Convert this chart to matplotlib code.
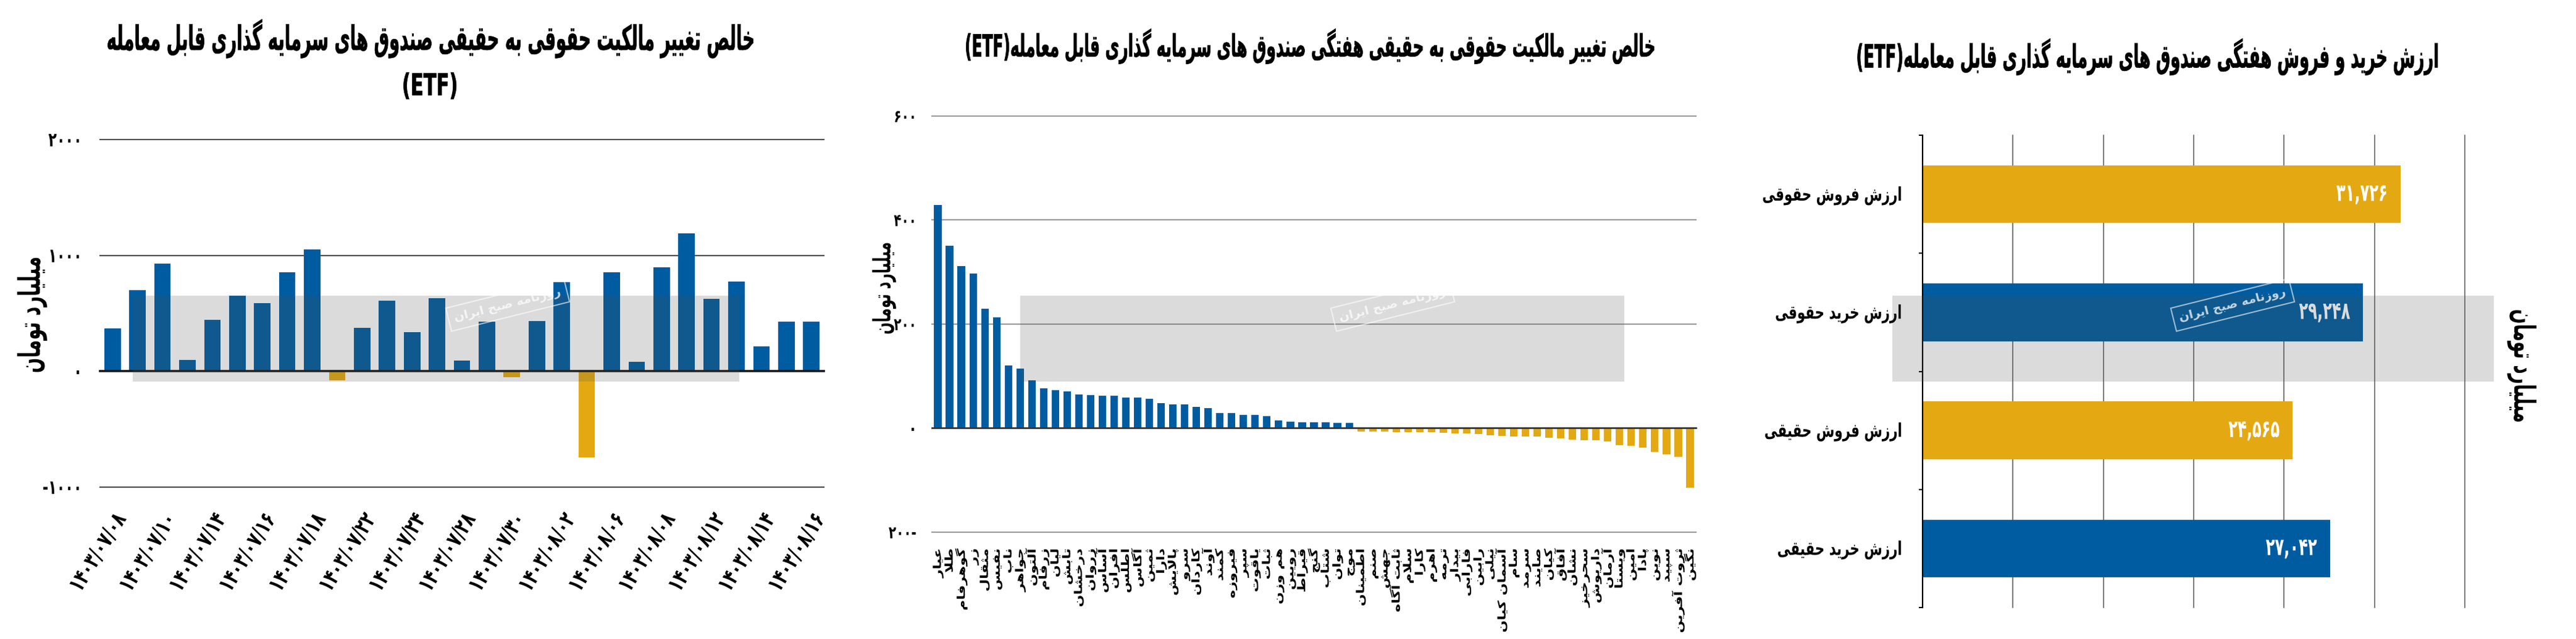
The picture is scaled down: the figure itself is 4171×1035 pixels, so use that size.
import matplotlib
matplotlib.use("Agg")
import matplotlib.pyplot as plt
from matplotlib.patches import Rectangle
from matplotlib.patheffects import AbstractPathEffect
from matplotlib.transforms import Affine2D

# ---------------- data ----------------
p1_dates = ['۱۴۰۳/۰۷/۰۸', '۱۴۰۳/۰۷/۰۹', '۱۴۰۳/۰۷/۱۰', '۱۴۰۳/۰۷/۱۱', '۱۴۰۳/۰۷/۱۴',
            '۱۴۰۳/۰۷/۱۵', '۱۴۰۳/۰۷/۱۶', '۱۴۰۳/۰۷/۱۷', '۱۴۰۳/۰۷/۱۸', '۱۴۰۳/۰۷/۲۱',
            '۱۴۰۳/۰۷/۲۲', '۱۴۰۳/۰۷/۲۳', '۱۴۰۳/۰۷/۲۴', '۱۴۰۳/۰۷/۲۵', '۱۴۰۳/۰۷/۲۸',
            '۱۴۰۳/۰۷/۲۹', '۱۴۰۳/۰۷/۳۰', '۱۴۰۳/۰۸/۰۱', '۱۴۰۳/۰۸/۰۲', '۱۴۰۳/۰۸/۰۵',
            '۱۴۰۳/۰۸/۰۶', '۱۴۰۳/۰۸/۰۷', '۱۴۰۳/۰۸/۰۸', '۱۴۰۳/۰۸/۰۹', '۱۴۰۳/۰۸/۱۲',
            '۱۴۰۳/۰۸/۱۳', '۱۴۰۳/۰۸/۱۴', '۱۴۰۳/۰۸/۱۵', '۱۴۰۳/۰۸/۱۶']
p1_values = [368, 701, 929, 100, 444, 650, 590, 852, 1051, -78, 375, 611, 340, 631, 90,
             426, -53, 436, 770, -742, 855, 82, 898, 1189, 627, 775, 215, 426, 426]
p1_yticks = [2000, 1000, 0, -1000]
p1_yticklabels = ['۲۰۰۰', '۱۰۰۰', '۰', '-۱۰۰۰']

p2_funds = ['عیار', 'طلا', 'گوهرفام', 'زر', 'مثقال', 'نفیس', 'ناب', 'جواهر', 'آلتون', 'زرفام',
            'لیان', 'تابش', 'درخشان', 'زروان', 'آساس', 'افران', 'اطلس', 'آگاس', 'ثمین', 'دارا',
            'پالایش', 'سرو', 'کاردان', 'آوند', 'کمند', 'فیروزه', 'سپر', 'یاقوت', 'ثبات', 'هم وزن',
            'رویین', 'قیراط', 'گنج', 'شتاب', 'توان', 'موج', 'اطمینان', 'صنم', 'جهش', 'ثابت آگاه',
            'سلام', 'کارا', 'اهرم', 'ترمه', 'بیدار', 'فارابی', 'رابین', 'نیلی', 'آسمان کیان', 'سام',
            'سرمد', 'صایند', 'کیان', 'آفاق', 'نشان', 'سحرخیز', 'داریوش', 'آرمان', 'ویستا', 'امین',
            'پادا', 'نوین', 'سپید', 'ثروت آفرین', 'نگین']
p2_values = [429, 350, 311, 297, 229, 213, 120, 114, 92, 76, 73, 71, 65, 63, 62, 62, 59, 59,
             56, 48, 46, 45, 41, 38, 29, 29, 26, 25, 23, 15, 12, 11.5, 11.5, 11, 9.5, 9.5,
             -6.7, -6.7, -7, -8, -8, -8, -8.3, -9.5, -10.3, -10.7, -11.5, -14.3, -14.7, -16.2,
             -16.6, -16.6, -19, -19.4, -22.2, -23, -23.4, -25.3, -33.3, -33.7, -37.2, -46,
             -50.3, -54.7, -115]
p2_yticks = [600, 400, 200, 0, -200]
p2_yticklabels = ['۶۰۰', '۴۰۰', '۲۰۰', '۰', '۲۰۰-']

p3_cats = ['ارزش فروش حقوقی', 'ارزش خرید حقوقی', 'ارزش فروش حقیقی', 'ارزش خرید حقیقی']
p3_values = [31726, 29248, 24565, 27042]
p3_xgrid = [6000, 12000, 18000, 24000, 30000, 36000]

title1 = 'خالص تغییر مالکیت حقوقی به حقیقی صندوق های سرمایه گذاری قابل معامله'
title2 = 'خالص تغییر مالکیت حقوقی به حقیقی هفتگی صندوق های سرمایه گذاری قابل معامله'
title3 = 'ارزش خرید و فروش هفتگی صندوق های سرمایه گذاری قابل معامله'
unit_label = 'میلیارد تومان'
watermark = 'روزنامه صبح ایران'

# ---------------- Persian shaping helpers ----------------
_F = {
    'ء': ('\uFE80', None, None, None), 'آ': ('\uFE81', '\uFE82', None, None),
    'أ': ('\uFE83', '\uFE84', None, None), 'ؤ': ('\uFE85', '\uFE86', None, None),
    'إ': ('\uFE87', '\uFE88', None, None), 'ئ': ('\uFE89', '\uFE8A', '\uFE8B', '\uFE8C'),
    'ا': ('\uFE8D', '\uFE8E', None, None), 'ب': ('\uFE8F', '\uFE90', '\uFE91', '\uFE92'),
    'ة': ('\uFE93', '\uFE94', None, None), 'ت': ('\uFE95', '\uFE96', '\uFE97', '\uFE98'),
    'ث': ('\uFE99', '\uFE9A', '\uFE9B', '\uFE9C'), 'ج': ('\uFE9D', '\uFE9E', '\uFE9F', '\uFEA0'),
    'ح': ('\uFEA1', '\uFEA2', '\uFEA3', '\uFEA4'), 'خ': ('\uFEA5', '\uFEA6', '\uFEA7', '\uFEA8'),
    'د': ('\uFEA9', '\uFEAA', None, None), 'ذ': ('\uFEAB', '\uFEAC', None, None),
    'ر': ('\uFEAD', '\uFEAE', None, None), 'ز': ('\uFEAF', '\uFEB0', None, None),
    'س': ('\uFEB1', '\uFEB2', '\uFEB3', '\uFEB4'), 'ش': ('\uFEB5', '\uFEB6', '\uFEB7', '\uFEB8'),
    'ص': ('\uFEB9', '\uFEBA', '\uFEBB', '\uFEBC'), 'ض': ('\uFEBD', '\uFEBE', '\uFEBF', '\uFEC0'),
    'ط': ('\uFEC1', '\uFEC2', '\uFEC3', '\uFEC4'), 'ظ': ('\uFEC5', '\uFEC6', '\uFEC7', '\uFEC8'),
    'ع': ('\uFEC9', '\uFECA', '\uFECB', '\uFECC'), 'غ': ('\uFECD', '\uFECE', '\uFECF', '\uFED0'),
    'ف': ('\uFED1', '\uFED2', '\uFED3', '\uFED4'), 'ق': ('\uFED5', '\uFED6', '\uFED7', '\uFED8'),
    'ك': ('\uFED9', '\uFEDA', '\uFEDB', '\uFEDC'), 'ل': ('\uFEDD', '\uFEDE', '\uFEDF', '\uFEE0'),
    'م': ('\uFEE1', '\uFEE2', '\uFEE3', '\uFEE4'), 'ن': ('\uFEE5', '\uFEE6', '\uFEE7', '\uFEE8'),
    'ه': ('\uFEE9', '\uFEEA', '\uFEEB', '\uFEEC'), 'و': ('\uFEED', '\uFEEE', None, None),
    'ى': ('\uFEEF', '\uFEF0', None, None), 'ي': ('\uFEF1', '\uFEF2', '\uFEF3', '\uFEF4'),
    'پ': ('\uFB56', '\uFB57', '\uFB58', '\uFB59'), 'چ': ('\uFB7A', '\uFB7B', '\uFB7C', '\uFB7D'),
    'ژ': ('\uFB8A', '\uFB8B', None, None), 'ک': ('\uFB8E', '\uFB8F', '\uFB90', '\uFB91'),
    'گ': ('\uFB92', '\uFB93', '\uFB94', '\uFB95'), 'ی': ('\uFBFC', '\uFBFD', '\uFBFE', '\uFBFF'),
}
_LA = {'ا': ('\uFEFB', '\uFEFC'), 'آ': ('\uFEF5', '\uFEF6'),
       'أ': ('\uFEF7', '\uFEF8'), 'إ': ('\uFEF9', '\uFEFA')}


def _dual(c):
    f = _F.get(c)
    return f is not None and f[2] is not None


def _joins(c):
    return c in _F and c != 'ء'


def fa(s):
    """shape Persian text and return it in visual (left-to-right) order"""
    ch = list(s)
    n = len(ch)
    res = []
    prev = False
    i = 0
    while i < n:
        c = ch[i]
        if c not in _F:
            if c != '\u200c':
                res.append(c)
            prev = False
            i += 1
            continue
        if c == 'ل' and i + 1 < n and ch[i + 1] in _LA:
            iso, fin = _LA[ch[i + 1]]
            res.append(fin if prev else iso)
            prev = False
            i += 2
            continue
        f = _F[c]
        nxt = ch[i + 1] if i + 1 < n else None
        can_next = _dual(c) and nxt is not None and _joins(nxt)
        if prev and can_next:
            g = f[3]
        elif prev:
            g = f[1] or f[0]
        elif can_next:
            g = f[2]
        else:
            g = f[0]
        res.append(g)
        prev = can_next
        i += 1
    return ''.join(res)[::-1]


_DIG = str.maketrans('0123456789', '۰۱۲۳۴۵۶۷۸۹')


def fa_num(v):
    return f"{v:,}".translate(_DIG)


class Stretch(AbstractPathEffect):
    """draw the glyphs scaled in the text's own frame (tall / condensed look)"""

    def __init__(self, sx=1.0, sy=1.0, fx=0.5, fy=0.5, stroke=0.0):
        super().__init__()
        self.sx, self.sy, self.fx, self.fy, self.stroke = sx, sy, fx, fy, stroke

    def draw_path(self, renderer, gc, tpath, affine, rgbFace=None):
        ext = tpath.get_extents()
        px = ext.x1 * self.fx
        py = ext.y0 + (ext.y1 - ext.y0) * self.fy
        tr = (Affine2D().translate(-px, -py).scale(self.sx, self.sy)
              .translate(px, py) + affine)
        gc0 = renderer.new_gc()
        gc0.copy_properties(gc)
        if self.stroke > 0 and rgbFace is not None:
            gc0.set_linewidth(self.stroke)
            gc0.set_foreground(rgbFace)
        renderer.draw_path(gc0, tpath, tr, rgbFace)
        gc0.restore()


def stretch(texts, **kw):
    for t in texts:
        t.set_path_effects([Stretch(**kw)])


# ---------------- style ----------------
plt.rcParams['font.family'] = ['DejaVu Sans']
plt.rcParams['font.weight'] = 'bold'
BLUE = '#005CA0'
GOLD = '#E4A912'

W, H = 4171, 1035
fig = plt.figure(figsize=(W / 100, H / 100), dpi=100)
fig.patch.set_facecolor('white')


def rect(x0, y0, x1, y1):
    """pixel box (top-left origin) -> figure fraction [l, b, w, h]"""
    return [x0 / W, 1 - y1 / H, (x1 - x0) / W, (y1 - y0) / H]


def fpos(x, y):
    return x / W, 1 - y / H


renderer = fig.canvas.get_renderer()


def fit(t, target):
    w = t.get_window_extent(renderer).width
    t.set_fontsize(t.get_fontsize() * target / w)


# ---------------- panel 1 ----------------
ax1 = fig.add_axes(rect(162, 226, 1334, 789))
x1 = list(range(len(p1_values)))
c1 = [BLUE if v >= 0 else GOLD for v in p1_values]
ax1.bar(x1, p1_values, width=0.66, color=c1, zorder=3)
ax1.set_xlim(-0.5, len(p1_values) - 0.5)
ax1.set_ylim(-1000, 2000)
for v in p1_yticks:
    if v == 0:
        ax1.axhline(v, color='#1a1a1a', lw=2.6, zorder=4, clip_on=False)
    else:
        ax1.axhline(v, color='#4d4d4d', lw=1.5, zorder=1, clip_on=False)
ax1.set_yticks(p1_yticks)
ax1.set_yticklabels(p1_yticklabels, fontsize=16, fontweight='bold')
ax1.set_xticks(x1[::2])
ax1.set_xticklabels(p1_dates[::2], rotation=58, ha='right', va='top',
                    rotation_mode='anchor', fontsize=18.2, fontweight='bold')
ax1.tick_params(axis='y', length=0, pad=21)
ax1.tick_params(axis='x', length=0, pad=27)
stretch(ax1.get_yticklabels(), sy=1.43)
stretch(ax1.get_xticklabels(), sy=1.43, fy=1.0)
for s in ax1.spines.values():
    s.set_visible(False)

t = fig.text(*fpos(696, 63), fa(title1), ha='center', va='center', fontsize=16,
             fontweight='bold')
fit(t, 1050)
stretch([t], sy=2.0, stroke=0.5)
t = fig.text(*fpos(696, 140), '(ETF)', ha='center', va='center', fontsize=22,
             fontweight='bold')
stretch([t], sy=1.59, stroke=0.5)
t = fig.text(*fpos(52, 510), fa(unit_label), ha='center', va='center', rotation=90,
             fontsize=12, fontweight='bold')
t.set_rotation(0)
fit(t, 189)
t.set_rotation(90)
stretch([t], sy=1.67)

# ---------------- panel 2 ----------------
ax2 = fig.add_axes(rect(1509, 187.7, 2746, 862))
x2 = list(range(len(p2_values)))
c2 = [BLUE if v >= 0 else GOLD for v in p2_values]
ax2.bar(x2, p2_values, width=0.64, color=c2, zorder=3)
ax2.set_xlim(-0.5, len(p2_values) - 0.5)
ax2.set_ylim(-200, 600)
for v in p2_yticks:
    if v == 0:
        ax2.axhline(v, color='#333333', lw=2.0, zorder=4, clip_on=False)
    else:
        ax2.axhline(v, color='#9a9a9a', lw=1.5, zorder=1, clip_on=False)
ax2.set_yticks(p2_yticks)
ax2.set_yticklabels(p2_yticklabels, fontsize=14.4, fontweight='bold')
ax2.set_xticks(x2)
ax2.set_xticklabels([fa(s) for s in p2_funds], rotation=90, fontsize=12.5,
                    fontweight='bold')
ax2.tick_params(axis='y', length=0, pad=18)
ax2.tick_params(axis='x', length=0, pad=19)
stretch(ax2.get_yticklabels(), sy=1.39)
stretch(ax2.get_xticklabels(), sx=1.35, fx=1.0)
for s in ax2.spines.values():
    s.set_visible(False)

t = fig.text(*fpos(2122, 75), '(ETF)' + fa(title2), ha='center', va='center',
             fontsize=14, fontweight='bold')
fit(t, 1125)
stretch([t], sy=2.0, stroke=0.5)
t = fig.text(*fpos(1432, 467), fa(unit_label), ha='center', va='center', fontsize=10,
             fontweight='bold')
fit(t, 150)
t.set_rotation(90)
stretch([t], sy=1.67)

# ---------------- panel 3 ----------------
ax3 = fig.add_axes(rect(3113, 219, 3991, 984))
y3 = list(range(len(p3_values)))
c3 = [GOLD, BLUE, GOLD, BLUE]
bars = ax3.barh(y3, p3_values, height=0.49, color=c3, zorder=3)
ax3.set_xlim(0, 36000)
ax3.set_ylim(len(p3_values) - 0.5, -0.5)
for v in p3_xgrid:
    ax3.axvline(v, color='#555555', lw=1.1, zorder=1, clip_on=False)
ax3.set_xticks([])
ax3.set_yticks(y3)
ax3.set_yticklabels([fa(s) for s in p3_cats], fontsize=15.4, fontweight='bold')
ax3.set_yticks([i - 0.5 for i in range(len(p3_values) + 1)], minor=True)
ax3.tick_params(axis='y', which='major', length=0, pad=24)
ax3.tick_params(axis='y', which='minor', length=4, width=1.5, color='black')
stretch(ax3.get_yticklabels(), sy=1.43)
for k, s in ax3.spines.items():
    s.set_visible(k == 'left')
ax3.spines['left'].set_linewidth(1.6)
ax3.spines['left'].set_zorder(5)
vals = []
for b, v in zip(bars, p3_values):
    vals.append(ax3.annotate(fa_num(v), xy=(v, b.get_y() + b.get_height() / 2),
                             xytext=(-15, 0), textcoords='offset points', ha='right',
                             va='center', color='white', fontsize=17.4, fontweight='bold',
                             zorder=6))
stretch(vals, sy=1.61)

t = fig.text(*fpos(3477, 92), '(ETF)' + fa(title3), ha='center', va='center',
             fontsize=13, fontweight='bold')
fit(t, 943)
stretch([t], sy=2.0, stroke=0.5)
t = fig.text(*fpos(4083, 593), fa(unit_label), ha='center', va='center', fontsize=11,
             fontweight='bold')
fit(t, 184)
t.set_rotation(-90)
stretch([t], sy=1.67)

# ---------------- watermark bands ----------------
for (xa, xb, wx) in [(215, 1197, 822), (1652, 2630, 2255), (3064, 4038, 3615)]:
    fig.add_artist(Rectangle(fpos(xa, 618), (xb - xa) / W, (618 - 479) / H,
                             transform=fig.transFigure, facecolor=(0.31, 0.31, 0.31),
                             alpha=0.2, edgecolor='none', zorder=20))
    fig.text(*fpos(wx, 494), fa(watermark), ha='center', va='center', rotation=14,
             fontsize=14, color='white', alpha=0.75, zorder=21,
             bbox=dict(boxstyle='square,pad=0.5', facecolor='none', edgecolor='white',
                       alpha=0.6, lw=1.5))

fig.savefig('out.png', dpi=100)
